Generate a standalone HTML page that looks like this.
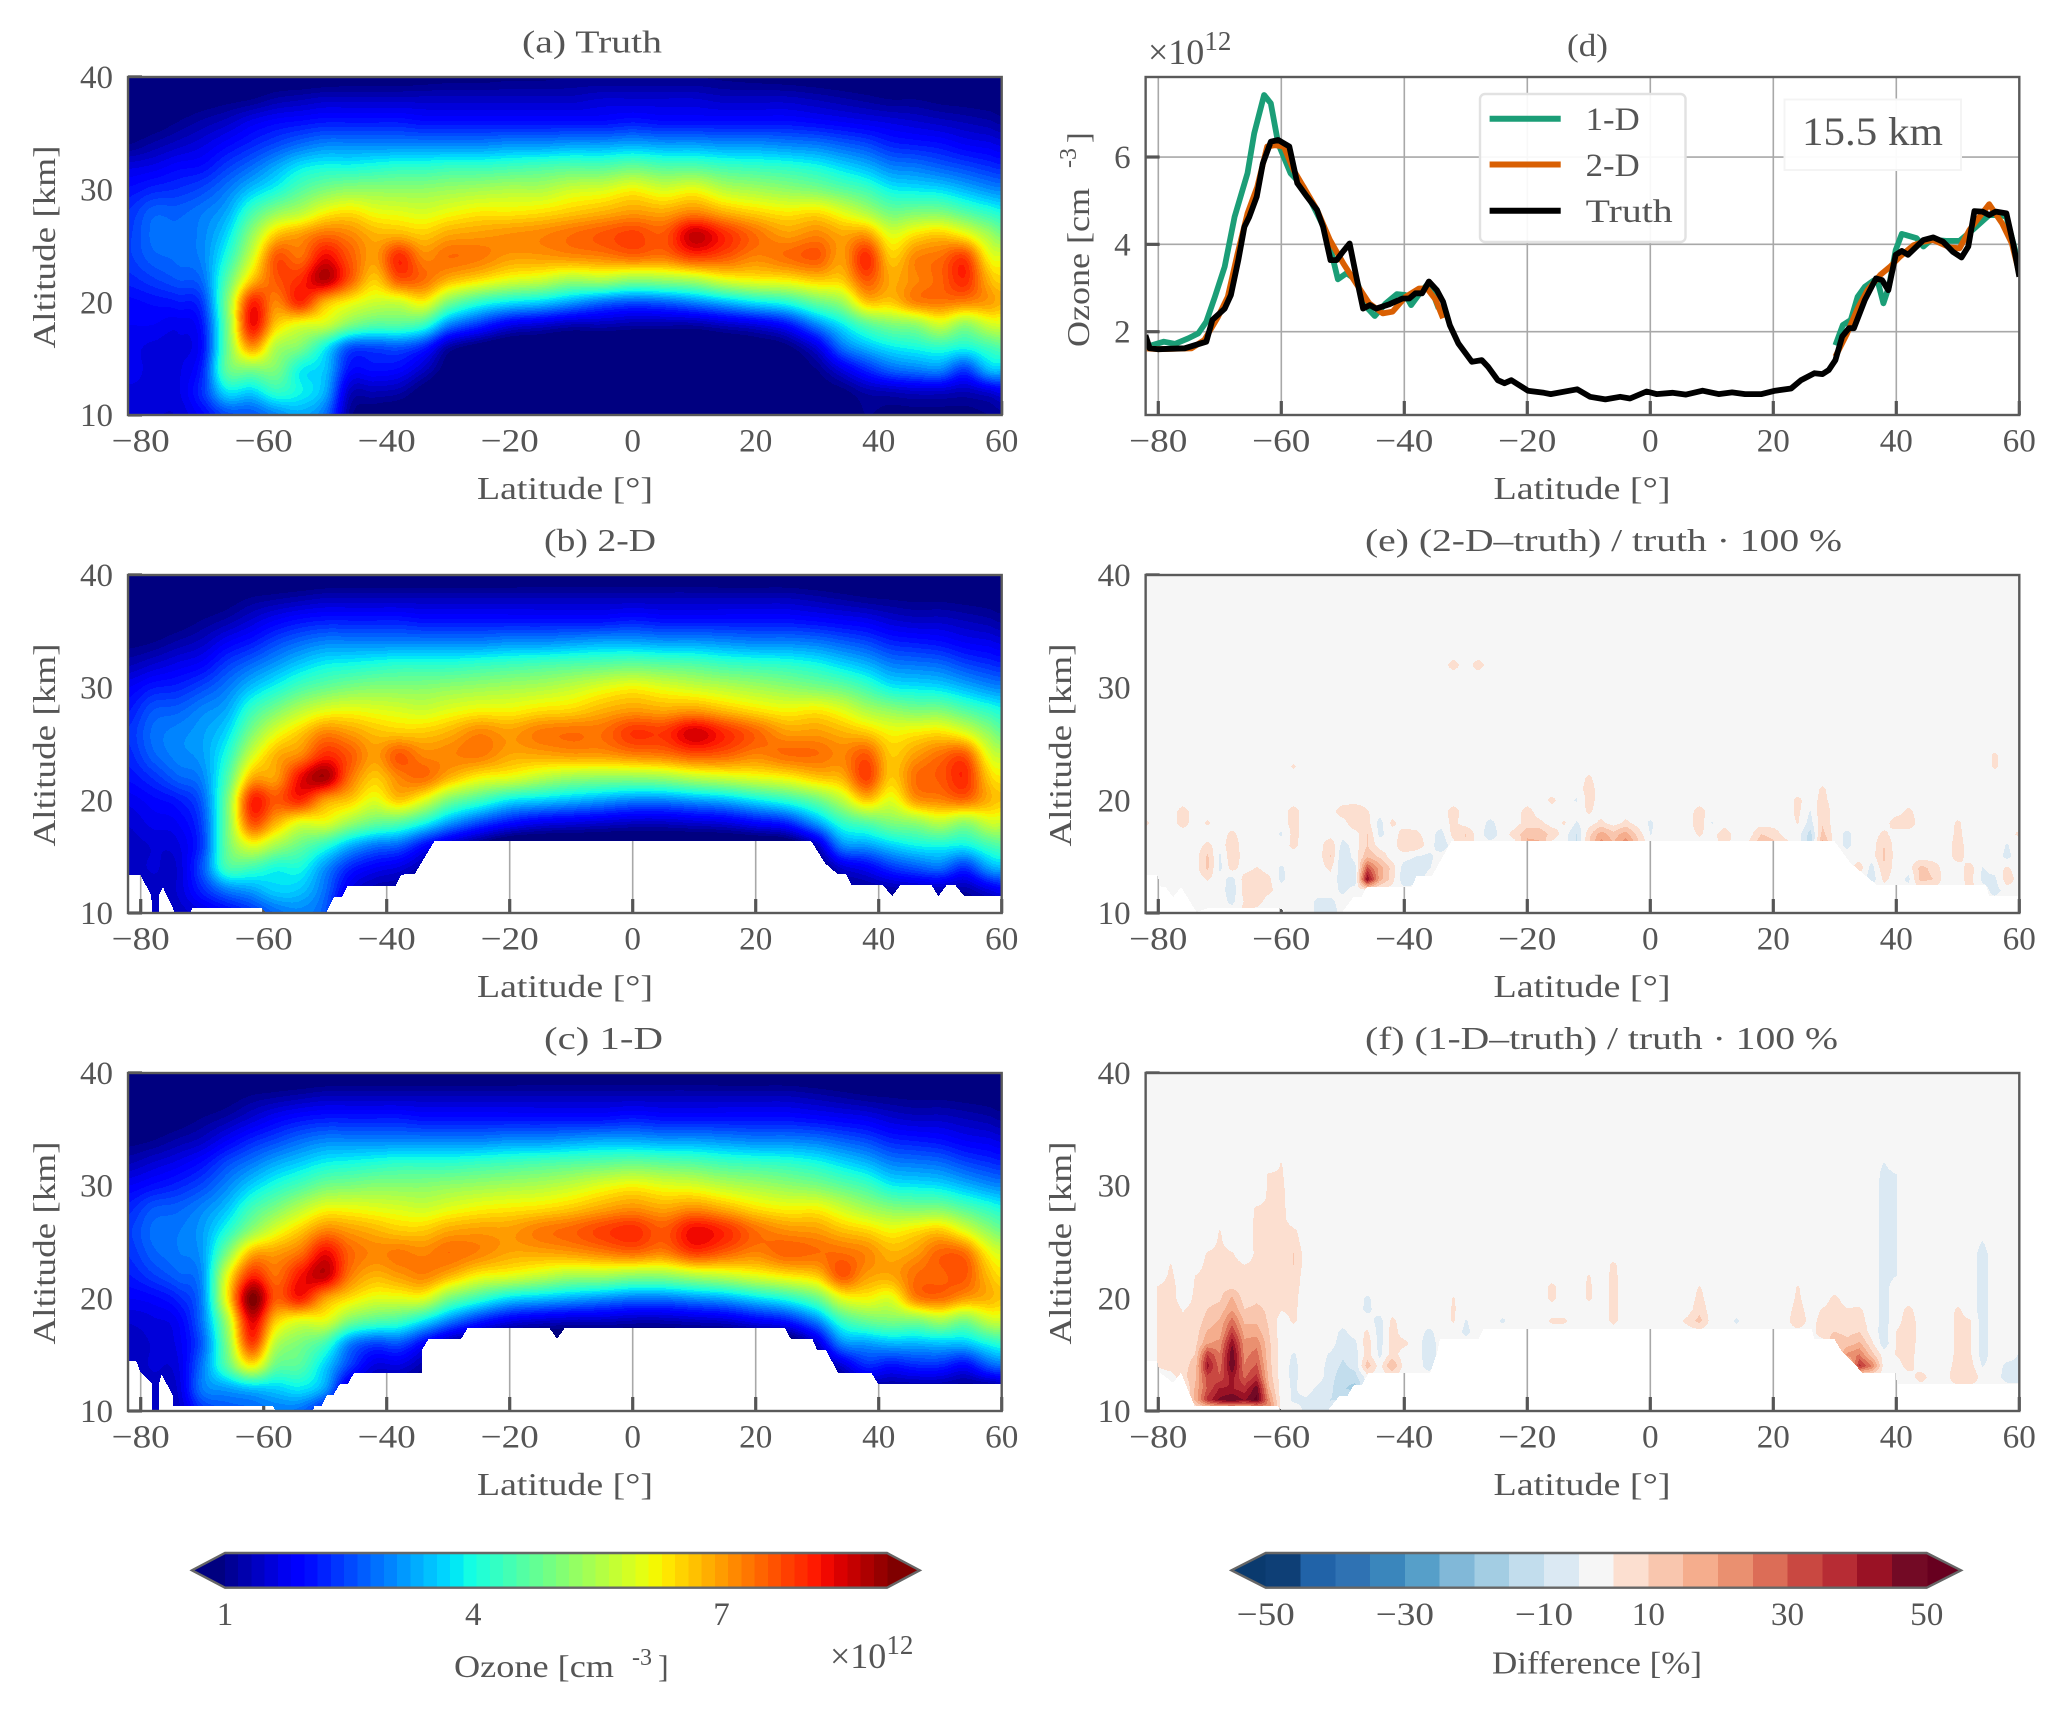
<!DOCTYPE html>
<html lang="en">
<head>
<meta charset="utf-8">
<title>Ozone retrieval comparison</title>
<style>
html,body{margin:0;padding:0;background:#fff;}
svg{display:block;}
text{font-family:"Liberation Serif","DejaVu Serif",serif;fill:#555;}
</style>
</head>
<body>
<svg id="figure" xmlns="http://www.w3.org/2000/svg" width="2067" height="1715" viewBox="0 0 2067 1715">
<rect x="0" y="0" width="2067" height="1715" fill="#fff"/>
<g id="plots"></g>

<text x="522" y="52.7" font-size="32" textLength="140" lengthAdjust="spacingAndGlyphs">(a) Truth</text>
<text x="1567" y="56" font-size="32" textLength="41" lengthAdjust="spacingAndGlyphs">(d)</text>
<text x="544" y="551" font-size="32" textLength="112" lengthAdjust="spacingAndGlyphs">(b) 2-D</text>
<text x="1365" y="551" font-size="32" textLength="477" lengthAdjust="spacingAndGlyphs">(e) (2-D–truth) / truth · 100 %</text>
<text x="544" y="1049" font-size="32" textLength="119" lengthAdjust="spacingAndGlyphs">(c)  1-D</text>
<text x="1365" y="1049" font-size="32" textLength="473" lengthAdjust="spacingAndGlyphs">(f) (1-D–truth) / truth · 100 %</text>

<text x="477" y="499" font-size="32" textLength="176" lengthAdjust="spacingAndGlyphs">Latitude [°]</text>
<text x="477" y="997" font-size="32" textLength="176" lengthAdjust="spacingAndGlyphs">Latitude [°]</text>
<text x="477" y="1495" font-size="32" textLength="176" lengthAdjust="spacingAndGlyphs">Latitude [°]</text>
<text x="1493.5" y="499" font-size="32" textLength="177" lengthAdjust="spacingAndGlyphs">Latitude [°]</text>
<text x="1493.5" y="997" font-size="32" textLength="177" lengthAdjust="spacingAndGlyphs">Latitude [°]</text>
<text x="1493.5" y="1495" font-size="32" textLength="177" lengthAdjust="spacingAndGlyphs">Latitude [°]</text>

<text transform="translate(55,247) rotate(-90)" text-anchor="middle" font-size="32" textLength="203" lengthAdjust="spacingAndGlyphs">Altitude [km]</text>
<text transform="translate(55,745) rotate(-90)" text-anchor="middle" font-size="32" textLength="203" lengthAdjust="spacingAndGlyphs">Altitude [km]</text>
<text transform="translate(55,1243) rotate(-90)" text-anchor="middle" font-size="32" textLength="203" lengthAdjust="spacingAndGlyphs">Altitude [km]</text>
<text transform="translate(1071,745) rotate(-90)" text-anchor="middle" font-size="32" textLength="203" lengthAdjust="spacingAndGlyphs">Altitude [km]</text>
<text transform="translate(1071,1243) rotate(-90)" text-anchor="middle" font-size="32" textLength="203" lengthAdjust="spacingAndGlyphs">Altitude [km]</text>
<text transform="translate(1089,347) rotate(-90)" font-size="32" textLength="159" lengthAdjust="spacingAndGlyphs">Ozone [cm</text>
<text transform="translate(1076,168) rotate(-90)" font-size="24">-3</text>
<text transform="translate(1089,143) rotate(-90)" font-size="32">]</text>
<text x="1148" y="64" font-size="36">×10<tspan font-size="27" dy="-14">12</tspan></text>

<g>
  <rect x="1480" y="94" width="205.5" height="148" rx="5" fill="#fff" fill-opacity="0.92" stroke="#e2e2e2" stroke-width="2.4"/>
  <line x1="1489.6" y1="118.7" x2="1560.7" y2="118.7" stroke="#1b9e77" stroke-width="6"/>
  <line x1="1489.6" y1="164.5" x2="1560.7" y2="164.5" stroke="#d95f02" stroke-width="6"/>
  <line x1="1489.6" y1="210.7" x2="1560.7" y2="210.7" stroke="#000" stroke-width="6"/>
  <text x="1585.7" y="130" font-size="33" textLength="54" lengthAdjust="spacingAndGlyphs">1-D</text>
  <text x="1585.7" y="176" font-size="33" textLength="54" lengthAdjust="spacingAndGlyphs">2-D</text>
  <text x="1585.7" y="222" font-size="33" textLength="87" lengthAdjust="spacingAndGlyphs">Truth</text>
</g>
<g>
  <rect x="1784.5" y="99.5" width="176.5" height="70.5" fill="#fff" fill-opacity="0.95" stroke="#f4f4f4" stroke-width="2"/>
  <text x="1802" y="145" font-size="40" textLength="141" lengthAdjust="spacingAndGlyphs">15.5 km</text>
</g>

<text x="454" y="1677" font-size="32" textLength="160" lengthAdjust="spacingAndGlyphs">Ozone [cm</text>
<text x="632" y="1665" font-size="24">-3</text>
<text x="658" y="1677" font-size="32">]</text>
<text x="830" y="1668" font-size="36">×10<tspan font-size="27" dy="-14">12</tspan></text>
<text x="1492" y="1673.7" font-size="32" textLength="210" lengthAdjust="spacingAndGlyphs">Difference [%]</text>
<g id="bars"></g>
</svg>

<script>
// ---------- Axis categories and tick labels ----------
const xTickValues = [-80, -60, -40, -20, 0, 20, 40, 60];
const altTickValues = [10, 20, 30, 40];
const ozoneTickValues = [2, 4, 6];
const ozoneBarTicks = [1, 4, 7];
const diffBarTickLabels = ['−50', '−30', '−10', '10', '30', '50'];
const diffBarTickBoundary = [0, 4, 8, 11, 15, 19];

// ---------- Grid coordinates of the ozone fields ----------
const latGrid = [-82,-78,-74,-70,-66,-62,-58,-54,-50,-46,-42,-38,-34,-30,-25,-20,-15,-10,-5,0,5,10,15,20,25,30,34,38,42,46,50,54,58,60];
const altGrid = [10,12,14,16,18,20,22,24,26,28,30,32,34,36,38,40];

// ozone [1e12 cm-3], one row per latitude, one value per altitude
const truthField = [
[1.5,1.6,1.7,1.7,1.8,1.9,2.2,2.4,2.4,2.3,2.0,1.6,1.0,.7,.5,.3],
[1.5,1.6,1.6,1.6,1.8,2.0,2.4,2.7,2.8,2.7,2.2,1.7,1.2,.8,.6,.4],
[1.5,1.6,1.6,1.6,1.7,2.1,2.6,2.8,2.8,2.7,2.3,1.9,1.4,1.0,.7,.45],
[1.9,2.3,2.2,2.0,2.1,2.4,2.8,3.0,3.0,2.9,2.5,2.0,1.6,1.2,.8,.5],
[2.5,3.7,4.7,4.8,4.9,5.0,4.6,4.1,3.7,3.3,2.9,2.4,1.9,1.4,.9,.55],
[2.6,3.6,5.0,7.0,8.2,8.0,6.6,5.8,5.2,4.4,3.5,2.8,2.2,1.7,1.0,.6],
[3.0,4.2,5.0,5.5,6.6,7.2,7.6,7.6,6.6,5.2,4.0,3.3,2.5,1.9,1.2,.7],
[3.3,3.9,3.9,5.0,6.0,8.0,8.0,7.4,7.0,5.6,4.6,3.8,2.8,2.0,1.3,.7],
[2.8,3.3,3.5,3.9,5.8,6.8,8.7,8.3,7.4,6.2,5.0,4.0,3.0,2.1,1.4,.75],
[1.1,1.4,2.0,2.6,5.0,6.2,7.6,7.6,7.2,6.4,5.2,4.0,3.0,2.1,1.4,.8],
[.8,1.3,2.0,2.5,4.6,5.8,6.6,7.0,6.8,6.1,5.2,4.1,3.0,2.1,1.4,.8],
[.7,1.2,1.9,2.6,4.6,5.8,7.6,8.0,6.8,6.0,5.2,4.2,3.0,2.1,1.4,.8],
[.6,.8,1.4,2.2,4.3,6.2,7.4,7.2,6.6,5.9,5.2,4.2,3.0,2.0,1.4,.85],
[.5,.6,.8,1.2,3.0,5.0,6.8,7.4,6.9,6.1,5.3,4.3,3.0,2.0,1.4,.9],
[.5,.5,.5,.8,2.3,4.2,6.4,7.3,7.0,6.3,5.4,4.3,3.0,2.0,1.4,.9],
[.5,.5,.5,.6,1.7,3.8,6.0,7.0,7.1,6.3,5.5,4.4,3.1,2.0,1.4,.95],
[.5,.5,.5,.6,1.5,3.6,5.8,7.0,7.2,6.4,5.5,4.5,3.1,2.0,1.4,.95],
[.5,.5,.5,.5,1.3,3.2,5.4,7.1,7.4,6.6,5.8,4.6,3.2,2.0,1.4,1.0],
[.5,.5,.5,.5,1.3,2.8,5.5,7.2,7.6,6.8,5.9,4.6,3.2,2.0,1.5,1.0],
[.5,.5,.5,.5,1.2,2.6,5.2,7.4,7.8,7.0,6.2,4.8,3.3,2.1,1.5,1.0],
[.5,.5,.5,.5,1.2,2.7,5.3,7.3,7.6,6.9,5.9,4.6,3.2,2.0,1.5,1.0],
[.5,.5,.5,.5,1.2,3.0,5.5,7.8,8.6,7.2,6.1,4.6,3.2,2.0,1.5,1.0],
[.5,.5,.5,.6,1.4,3.4,6.0,7.6,8.0,6.8,5.6,4.4,3.1,2.0,1.4,.95],
[.5,.5,.5,.7,1.6,3.8,6.2,7.2,7.4,6.5,5.4,4.3,3.1,2.0,1.4,.9],
[.6,.6,.7,.9,2.0,4.1,6.3,7.4,7.0,6.3,5.2,4.2,3.0,2.0,1.4,.85],
[.7,.8,1.0,1.6,3.0,4.8,6.6,7.6,7.2,6.4,5.0,4.0,2.9,1.9,1.3,.8],
[.8,.9,1.6,2.8,3.8,5.3,6.6,7.0,6.9,6.0,4.7,3.7,2.7,1.8,1.2,.75],
[1.0,1.2,2.2,3.4,4.6,6.6,7.6,8.0,7.0,5.5,4.4,3.4,2.5,1.7,1.1,.7],
[.9,1.3,2.7,3.8,5.0,6.6,6.9,6.6,6.0,4.9,3.9,3.0,2.2,1.6,1.0,.6],
[.9,1.4,2.9,4.0,5.2,7.2,7.2,7.2,6.4,5.0,3.8,2.9,2.1,1.5,1.0,.55],
[.9,1.4,3.0,4.2,5.8,7.3,7.5,7.4,6.6,5.0,3.7,2.7,2.0,1.4,.9,.5],
[.9,1.3,2.4,4.0,5.2,7.2,8.0,7.8,6.2,4.6,3.4,2.5,1.8,1.3,.85,.45],
[1.0,1.5,3.4,4.4,5.8,7.0,6.8,6.2,5.4,4.2,3.1,2.3,1.7,1.2,.8,.4],
[1.1,1.7,3.5,4.6,5.9,6.8,6.5,6.0,5.0,4.0,3.0,2.2,1.6,1.1,.75,.4]
];

const twoDField = [
[1.4,1.4,1.4,1.4,1.5,1.7,2.0,2.2,2.3,2.1,1.8,1.3,.9,.6,.4,.2],
[1.4,1.4,1.5,1.5,1.7,1.9,2.3,2.7,2.8,2.6,2.1,1.5,1.0,.7,.5,.25],
[1.4,1.5,1.5,1.6,1.8,2.1,2.7,3.0,3.0,2.7,2.2,1.7,1.2,.8,.55,.3],
[1.6,2.2,2.6,2.4,2.5,2.7,3.0,3.2,3.2,3.0,2.5,1.9,1.4,1.0,.65,.35],
[1.9,2.9,4.4,4.8,4.9,4.9,4.5,4.1,3.7,3.3,2.9,2.4,1.8,1.2,.8,.4],
[2.3,3.2,4.4,6.0,7.6,8.0,6.8,5.8,5.0,4.3,3.5,2.8,2.1,1.5,1.0,.5],
[2.8,3.6,4.0,5.4,6.8,7.6,7.0,6.8,6.0,5.0,4.0,3.2,2.5,1.8,1.1,.55],
[3.0,3.5,4.0,4.8,6.0,8.0,8.3,7.2,6.6,5.6,4.5,3.6,2.8,2.0,1.2,.6],
[2.6,2.8,3.1,4.2,6.0,7.0,8.8,8.0,7.2,6.0,4.8,3.9,3.0,2.1,1.3,.65],
[1.0,1.6,2.2,3.4,5.3,6.6,7.4,7.6,7.0,6.1,5.0,4.0,3.0,2.1,1.3,.7],
[.8,1.2,1.8,2.9,4.8,6.0,6.6,7.0,6.7,6.0,5.1,4.1,3.0,2.1,1.3,.7],
[.7,1.1,1.6,2.7,4.6,6.6,7.2,7.6,6.6,5.9,5.1,4.2,3.0,2.1,1.3,.7],
[.5,.8,1.2,2.0,4.0,6.0,7.4,7.2,6.6,5.8,5.1,4.2,3.0,2.0,1.3,.7],
[.5,.5,.8,1.4,3.2,5.0,6.8,7.2,6.8,6.0,5.2,4.2,3.0,2.0,1.3,.7],
[.5,.5,.5,.9,2.5,4.4,6.2,7.3,7.2,6.2,5.3,4.3,3.0,2.0,1.3,.7],
[.5,.5,.5,.5,2.0,3.8,6.0,6.9,7.0,6.2,5.4,4.4,3.1,2.0,1.3,.7],
[.5,.5,.5,.5,1.7,3.6,5.6,6.9,7.3,6.4,5.5,4.5,3.1,2.0,1.3,.75],
[.5,.5,.5,.5,1.6,3.4,5.3,7.0,7.4,6.5,5.7,4.6,3.2,2.0,1.3,.75],
[.5,.5,.5,.5,1.5,3.2,5.2,7.0,7.4,6.8,6.0,4.7,3.3,2.0,1.3,.75],
[.5,.5,.5,.5,1.4,3.0,5.2,7.2,7.9,7.0,6.2,4.8,3.3,2.1,1.3,.75],
[.5,.5,.5,.5,1.4,3.0,5.3,7.3,7.9,6.9,6.0,4.7,3.2,2.0,1.3,.75],
[.5,.5,.5,.5,1.5,3.2,5.6,7.6,8.5,7.0,5.8,4.6,3.2,2.0,1.3,.75],
[.5,.5,.5,.5,1.6,3.4,5.8,7.5,8.0,6.7,5.6,4.4,3.1,2.0,1.3,.7],
[.5,.5,.5,.5,1.9,3.8,6.0,7.2,7.5,6.4,5.4,4.3,3.0,2.0,1.3,.7],
[.5,.5,.5,.6,2.2,4.2,6.2,7.4,7.0,6.2,5.2,4.2,3.0,2.0,1.3,.7],
[.6,.6,.8,1.4,3.2,4.8,6.6,7.4,7.0,6.3,5.0,4.0,2.9,1.9,1.2,.65],
[.8,1.0,1.5,3.0,4.2,5.6,6.8,7.2,6.8,6.0,4.8,3.7,2.7,1.8,1.1,.6],
[1.0,1.1,1.8,3.2,4.6,6.6,7.8,7.6,6.6,5.5,4.4,3.4,2.5,1.7,1.0,.55],
[1.0,1.2,2.3,3.6,5.0,6.0,6.6,6.6,6.2,5.2,3.9,3.0,2.2,1.5,.95,.5],
[1.0,1.3,2.6,3.9,5.2,7.0,7.4,7.0,6.3,5.0,3.8,2.9,2.1,1.4,.9,.45],
[1.0,1.3,2.8,4.0,5.6,7.2,7.6,7.4,6.4,5.0,3.7,2.8,2.0,1.4,.9,.4],
[1.0,1.2,2.3,3.9,5.2,7.4,8.0,7.6,6.0,4.6,3.4,2.5,1.8,1.3,.85,.35],
[1.0,1.6,3.2,4.4,5.8,6.8,6.6,6.0,5.2,4.2,3.1,2.3,1.7,1.2,.8,.35],
[1.1,1.8,3.4,4.6,5.8,6.6,6.3,5.7,4.8,4.0,3.0,2.2,1.6,1.1,.75,.3]
];

const oneDField = [
[1.4,1.4,1.4,1.4,1.5,1.8,2.1,2.3,2.4,2.2,1.8,1.3,.9,.6,.4,.25],
[1.4,1.4,1.5,1.5,1.6,1.9,2.4,2.7,2.8,2.6,2.0,1.5,1.0,.7,.5,.3],
[1.4,1.5,1.6,1.7,1.8,2.2,2.7,2.9,2.9,2.7,2.2,1.7,1.2,.8,.55,.35],
[2.3,2.9,2.9,2.7,2.9,3.0,3.1,3.2,3.2,3.0,2.5,2.0,1.4,1.0,.65,.4],
[2.6,3.2,4.6,5.0,5.4,6.2,6.0,5.0,4.1,3.5,3.0,2.5,1.8,1.2,.8,.45],
[2.7,3.5,6.2,7.8,8.4,9.1,8.0,6.8,5.2,4.4,3.6,2.9,2.2,1.5,1.0,.5],
[2.9,3.6,4.8,5.6,6.6,7.6,7.4,7.0,6.0,5.0,4.1,3.3,2.5,1.8,1.1,.55],
[2.8,3.8,4.6,5.0,6.0,8.1,8.2,7.4,6.6,5.6,4.5,3.6,2.8,2.0,1.2,.6],
[2.0,3.2,3.6,4.4,6.0,7.0,8.6,8.3,7.2,6.1,4.9,3.9,3.0,2.1,1.3,.65],
[1.0,1.4,2.4,3.0,5.0,6.4,7.3,7.5,7.0,6.1,5.0,4.0,3.0,2.1,1.3,.7],
[.8,1.2,1.6,2.5,4.6,6.0,6.8,7.2,6.8,6.0,5.1,4.1,3.0,2.1,1.3,.7],
[.7,1.1,1.6,2.6,4.4,6.0,7.0,7.3,6.6,5.9,5.1,4.2,3.0,2.1,1.3,.7],
[.5,.8,1.2,1.9,3.8,6.0,7.2,7.2,6.6,5.8,5.1,4.2,3.0,2.0,1.3,.7],
[.5,.5,.7,1.2,3.0,5.0,6.8,7.4,6.9,6.0,5.2,4.2,3.0,2.0,1.3,.7],
[.5,.5,.5,.8,2.2,4.3,6.2,7.2,7.0,6.2,5.3,4.3,3.0,2.0,1.3,.7],
[.5,.5,.5,.5,1.7,3.7,6.0,6.9,7.0,6.3,5.4,4.4,3.1,2.0,1.3,.7],
[.5,.5,.5,.5,1.5,3.5,5.7,6.9,7.3,6.4,5.5,4.5,3.1,2.0,1.3,.75],
[.5,.5,.5,.5,1.4,3.3,5.4,7.0,7.5,6.6,5.7,4.6,3.2,2.0,1.3,.75],
[.5,.5,.5,.5,1.4,3.1,5.4,7.2,7.8,6.9,6.0,4.7,3.3,2.0,1.3,.75],
[.5,.5,.5,.5,1.3,2.9,5.2,7.4,8.0,7.1,6.2,4.8,3.3,2.1,1.3,.75],
[.5,.5,.5,.5,1.3,2.9,5.2,7.2,7.6,6.9,6.0,4.7,3.2,2.0,1.3,.75],
[.5,.5,.5,.5,1.4,3.1,5.5,7.8,8.3,7.1,5.9,4.6,3.2,2.0,1.3,.75],
[.5,.5,.5,.5,1.5,3.3,5.7,7.5,8.0,6.8,5.6,4.4,3.1,2.0,1.3,.7],
[.5,.5,.5,.5,1.8,3.7,6.0,7.2,7.4,6.4,5.4,4.3,3.0,2.0,1.3,.7],
[.5,.5,.5,.6,2.1,4.1,6.3,7.5,7.1,6.2,5.2,4.2,3.0,2.0,1.3,.7],
[.6,.7,.9,1.5,3.0,4.8,6.6,7.4,7.0,6.2,5.0,4.0,2.9,1.9,1.2,.65],
[.7,.9,1.5,3.0,4.3,6.0,7.6,7.4,6.7,5.8,4.7,3.7,2.7,1.8,1.1,.6],
[.8,1.1,2.2,3.2,4.8,6.2,7.0,7.2,6.5,5.4,4.4,3.4,2.5,1.7,1.0,.55],
[.8,1.1,2.0,3.4,5.0,6.0,6.9,6.8,6.2,5.1,3.9,3.0,2.2,1.5,.95,.5],
[.8,1.1,2.2,3.4,5.0,7.2,7.4,7.0,6.4,5.0,3.8,2.9,2.1,1.4,.9,.45],
[.8,1.1,2.2,3.5,5.4,7.4,7.5,7.5,6.6,5.0,3.7,2.8,2.0,1.4,.9,.4],
[.8,1.0,1.9,3.5,5.0,7.0,7.6,7.4,6.0,4.6,3.4,2.5,1.8,1.3,.85,.35],
[.8,1.0,2.6,4.0,5.7,6.8,6.7,6.2,5.2,4.2,3.1,2.3,1.7,1.2,.8,.35],
[.9,1.1,2.8,4.2,5.8,6.6,6.4,5.9,4.9,4.0,3.0,2.2,1.6,1.1,.75,.3]
];

// ---------- Retrieval floor (lowest valid altitude) per latitude ----------
const floorLatB = [-82,-80.1,-78.3,-78.1,-77,-77,-76.4,-74.4,-71.8,-71.7,-60.2,-59.5,-49.9,-48.6,-47.3,-46.4,-38.6,-37.6,-35.4,-32.2,29,31.3,33.2,34.6,35.6,40.7,42.2,43.5,48.6,49.7,51,52.5,53.9,59.8,60];
const floorAltB = [13.4,13.4,11.6,10,10,11.6,12.3,10,10,10.4,10.4,10,10,11.4,11.4,12.4,12.4,13.4,13.5,16.4,16.4,14.4,13.5,13.5,12.45,12.45,11.5,12.45,12.45,11.5,12.45,12.45,11.5,11.5,12];
const floorLatC = [-82,-80.7,-80,-78.2,-78.2,-77,-77,-76.6,-74.8,-74.8,-58.5,-58,-52,-51.8,-50.6,-49.7,-48.7,-47.6,-46.3,-45.3,-34.3,-34.3,-33.2,-27.9,-26.8,-13.6,-12.3,-11,24.7,25.7,29.2,30,31.4,33.4,38.8,39.9,60];
const floorAltC = [14.4,14.4,13.4,12.5,10,10,12.5,13.25,11.4,10.44,10.44,10,10,10.44,10.44,11.4,11.4,12.4,12.4,13.4,13.4,15.4,16.4,16.4,17.4,17.4,16.4,17.4,17.4,16.4,16.4,15.4,15.4,13.4,13.4,12.4,12.4];
const floorLatE = [-82,-80.2,-79.6,-78.8,-77.6,-76.3,-73.8,-72.1,-60.2,-58.9,-50.2,-48.3,-47,-46.1,-38.8,-38,-35.5,-32.3,29.9,32.6,36.9,54.6,55.1,60];
const floorAltE = [13.4,13.4,12.3,12.3,11.4,12.3,10.1,10.4,10.4,10,10,11.4,11.4,12.3,12.3,13.3,13.3,16.4,16.4,14.4,12.45,12.45,11.5,11.5];
const floorLatF = [-82,-80.2,-79.7,-77.6,-76.3,-74.1,-60.6,-59.8,-52.5,-50.6,-49.3,-48.2,-46.9,-45.8,-35.8,-34.7,-34.2,-27.9,-27.1,26.2,26.7,29.9,31,34.5,39.9,40.1,60];
const floorAltF = [14.4,14.4,13.4,12.5,13.4,10.44,10.44,10,10,11.3,11.3,12.3,12.3,13.4,13.4,15.1,16.4,16.4,17.3,17.3,16.4,16.4,15.4,13.4,13.4,12.4,12.4];
const noFloorLat = [-82.1,60];
const noFloorAlt = [10,10];

// ---------- Difference fields: [latitude, first altitude, values upward in 1 km steps]; all other nodes are 0 ----------
const diff2dColumns = [
[-82,18,[3.6]],[-76,18,[5,5]],[-72,13,[3,9,9,4]],[-72,18,[3.4]],[-70,14,[-4,-4]],[-68,14,[5,7,6,4]],[-68,11,[-4,-6,-5]],
[-66,10,[5,3,5,5]],[-64,11,[5,6,7,3]],[-62,12,[4,4]],[-60,13,[-4,-3.4]],[-60,17,[-3.4]],[-58,16,[4,4.6,5,5]],[-58,23,[3.4]],
[-54,10,[-4,-4]],[-52,10,[-6,-4]],[-52,14,[4,8,7]],[-50,12,[-4,-5,-7,-8,-5]],[-50,19,[6]],[-48,13,[-6,-5]],[-48,18,[7,8]],
[-46,13,[45,30,12,8,8,5,3]],[-44,13,[16,16,7]],[-44,17,[-4,-5]],[-42,13,[5,6]],[-42,18,[4]],[-40,13,[-7,-6]],[-40,16,[7,5]],
[-38,13,[-5,-7,-3]],[-38,16,[7,4]],[-36,14,[-3,-4]],[-34,16,[-6,-5]],[-32,17,[5,4,5]],[-32,32,[5]],[-30,16,[8,8]],[-28,32,[5]],
[-26,17,[-6,-4]],[-22,17,[5]],[-20,16,[15,12,5,5]],[-18,16,[14,12,4]],[-16,17,[6]],[-16,20,[4]],[-14,18,[3.4]],[-12,16,[-8,-8,-3]],[-12,20,[-3.2]],
[-10,16,[8,6]],[-10,19,[3.5,5,5,3.5]],[-8,16,[22,16,4]],[-6,16,[14,10]],[-4,16,[24,16,4]],[-2,16,[10,6]],[0,17,[-3,-3.5]],
[8,17,[3.5,6,5]],[10,18,[-3]],[12,16,[5,6]],[16,16,[4]],[18,16,[12,8]],[20,16,[10,6]],[22,16,[6]],[24,18,[3,4,4]],
[26,16,[-12,-10,-5,-3]],[28,16,[16,10,7,7,4.5,3.5]],[32,16,[-4,-4]],[34,14,[6]],[36,13,[-6,-5]],[38,13,[4,7,9,8,4]],
[40,18,[6]],[42,13,[-4]],[42,18,[6,4]],[44,13,[10,10]],[46,13,[8,6]],[50,15,[5,5,4,3.5]],[52,12,[4,5,5]],
[54,13,[-4,-3]],[56,12,[-5,-4]],[56,23,[3.5,3.5]],[58,13,[6,3.5,-4,-3]],[60,17,[4]]
];
const diff1dColumns = [
[-80,14,[3,3,3,3,3,3,3,3]],[-78,14,[5,5,5,5,5,5,5,4.5,3.6,2.8]],[-76,13,[6,6,5.5,5,4.5,3.2,2.4]],
[-74,11,[14,14,12,10,8,6,5,4.5,4,3.5,3,2.7]],[-72,11,[36,30,32,42,34,18,14,10,8,6,5,4.6,4,3]],
[-70,11,[46,40,30,26,24,20,16,14,10,7,6,4.5,4,4,3.4,2.8]],[-68,11,[50,40,42,50,50,44,34,26,18,14,7,5,4,3]],
[-66,11,[44,36,28,24,22,20,16,12,8,5.5,4.5,3.4,2.6]],[-64,11,[52,48,36,30,26,22,16,12,9,7,5,4,3.6,3.5,3.8,4,3.6,3.2]],
[-62,10,[24,20,14,11,10,9,9,8,7,7,6,5,5,5,6,5,4.5,4,3.6,3.4,3.2,3]],
[-60,19,[3,3.5,4,4.5,5,5,5,5,4.5,4,3.8,3.5,3.1,2.8]],[-58,11,[-3.5,-3.5,-4,-4,-3.2]],[-58,18,[3.5,3.8,4,5,6,8,8,5,3.5]],
[-56,10,[-3.5,-3.5]],[-54,10,[-5,-5,-4]],[-52,10,[-7,-8,-7,-6,-5,-3.5]],[-50,11,[-8,-12,-11,-9,-7,-6,-4]],[-48,12,[-16,-10,-6,-5,-4]],
[-46,14,[11,5,6,3.5]],[-46,19,[-4,-3.5]],[-44,15,[-4,-5,-5,-5]],[-42,14,[14,5,5,5,4]],[-40,16,[4]],
[-36,14,[-5,-6,-6,-4]],[-32,18,[3.2,3.2,3]],[-30,17,[-4,-3]],[-24,18,[-3.5]],[-16,18,[3.5]],[-16,20,[4,4]],[-14,18,[3.5]],
[-10,20,[3.5,3.5,3]],[-6,18,[4,4,4,4,4,3.5]],[6,18,[4]],[8,18,[10,6,4,3]],[14,18,[-3.5]],[24,18,[8,5,3.5,3]],
[28,17,[6,5,3]],[30,16,[14,8,6,5,4]],[32,15,[20,10,6,5,3]],[34,14,[36,24,14,8,5,3.5]],[36,14,[24,10,4]],
[38,16,[-6,-5,-4.5,-4.5,-4.5,-4.5,-4.5,-4.5,-4.5,-4.5,-4.5,-4.5,-4.5,-4.5,-4.5,-4,-2.8]],
[40,15,[3,3,3]],[40,22,[-2.7,-2.7,-2.7,-2.7,-2.7,-2.7,-2.7,-2.7,-2.7,-2.7]],
[42,14,[5,5,6,6,6,4]],[44,13,[5]],[50,13,[8,5,4,4,4,4,3.5]],[52,13,[8,5,3.5,3.5,3.5,3]],
[54,14,[-3,-5,-5,-5,-5,-5,-5,-5,-5,-5,-4.5,-2.8]],[58,13,[-5,-4]],[60,13,[-6,-4,-3]]
];

// ---------- Panel (d): ozone at 15.5 km ----------
const truthLat = [-82.1,-81.4,-80,-75.7,-72.2,-71.2,-69.2,-68.2,-67,-66,-65.2,-64,-63,-61.7,-60.5,-58.7,-57.4,-55.8,-54.2,-53.2,-52,-51,-50,-48.9,-47.8,-46.7,-45.6,-44.6,-42.4,-40.3,-39.2,-38.2,-37.1,-36,-34.7,-33.7,-32.6,-31.2,-29,-27.4,-26.4,-24.8,-23.7,-22.6,-19.9,-17.3,-16.2,-11.9,-9.8,-7.3,-4.9,-3.3,-0.6,1,3.6,5.8,8.5,11.1,13.3,15.4,18.1,20.3,22.9,24.5,26.7,28,29,30.1,31.2,32.3,33.1,34.9,36.7,37.7,38.7,39.9,40.9,41.9,43.3,44.4,46,47.6,49.2,50.6,51.7,52.7,54,55.1,56.2,57.9,59.1,60];
const truthValues = [1.92,1.62,1.6,1.62,1.77,2.27,2.53,2.84,3.64,4.4,4.63,5.09,5.85,6.35,6.39,6.24,5.4,5.09,4.79,4.4,3.64,3.64,3.83,4.02,3.26,2.53,2.61,2.53,2.63,2.76,2.76,2.88,2.88,3.15,2.95,2.69,2.15,1.73,1.31,1.35,1.2,.89,.82,.89,.65,.6,.57,.68,.51,.45,.51,.47,.63,.57,.6,.56,.65,.57,.61,.57,.57,.65,.7,.89,1.05,1.03,1.12,1.35,1.89,2.08,2.08,2.73,3.22,3.18,2.95,3.76,3.85,3.76,3.95,4.1,4.16,4.06,3.83,3.7,3.95,4.76,4.75,4.67,4.75,4.71,3.95,3.26];
const oneDLat = [-82.1,-81,-79.1,-77.3,-75.1,-73.5,-72.2,-70.8,-69.2,-67.6,-65.5,-64.4,-62.8,-61.7,-60.5,-58.5,-56.4,-54.2,-52.6,-50.8,-49.4,-47.8,-46.2,-44.8,-43,-41.2,-39.8,-38.9,-37.1,-36,-34.4,null,30.1,31.3,32.6,33.7,34.9,36.3,36.9,37.9,38.8,39.9,40.9,43.3,44.4,45.7,48.1,50.3,52.4,55.1,57,57.9,59.4,60];
const oneDValues = [1.65,1.69,1.77,1.72,1.85,1.96,2.23,2.8,3.49,4.63,5.63,6.54,7.42,7.23,6.31,5.63,5.32,4.71,4.25,3.2,3.34,3.18,2.57,2.36,2.65,2.86,2.84,2.61,2.95,3.12,2.53,null,1.69,2.15,2.27,2.8,3.03,3.17,3.2,2.65,3.03,3.87,4.24,4.14,3.95,4.11,4.08,4.08,4.33,4.67,4.67,4.63,3.83,3.33];
const twoDLat = [-82.1,-80,-74.6,-72.5,-70.3,-68.7,-67.1,-65.5,-63.9,-62.3,-61,-59.6,-58,-56.4,-54.2,-52.1,-49.9,-47.8,-45.7,-43.5,-41.9,-39.8,-37.6,-36.3,-34.9,-33.7,null,30.1,32,33.7,35.3,37.4,39,40.6,42.8,44.4,46,48.7,50.3,51.9,55.1,57.2,58.8,60];
const twoDValues = [1.62,1.6,1.62,1.81,2.34,2.8,3.79,4.71,5.32,6.24,6.27,6.24,5.7,5.32,4.79,4.1,3.56,3.1,2.65,2.42,2.46,2.8,2.99,2.99,2.73,2.31,null,1.43,1.96,2.53,2.95,3.3,3.49,3.72,3.98,4.06,4.1,3.93,3.91,4.33,4.92,4.48,4.02,3.33];

// ---------- Colormaps ----------
const rdbuColors = ['#0a3a6e','#0e3f76','#2163a8','#2f72b3','#3a86bc','#569fc9','#81b8d8','#a3cde3','#c2dded','#dbe9f3','#f6f6f6','#fcdfd0','#f9c6ae','#f5ad8d','#ea9070','#dc6d57','#c94841','#b72c34','#9a1225','#730a25','#67001f'];
function piece(t, xs, ys){
  for(let i=1;i<xs.length;i++){ if(t<=xs[i]) return ys[i-1]+(ys[i]-ys[i-1])*(t-xs[i-1])/(xs[i]-xs[i-1]); }
  return ys[ys.length-1];
}
function jet(t){
  const r=piece(t,[0,.35,.66,.89,1],[0,0,1,1,.5]);
  const g=piece(t,[0,.125,.375,.64,.91,1],[0,0,1,1,0,0]);
  const b=piece(t,[0,.11,.34,.65,1],[.5,1,1,0,0]);
  return 'rgb('+Math.round(r*255)+','+Math.round(g*255)+','+Math.round(b*255)+')';
}
const ozoneBandCount = 50, ozoneLow = 1, ozoneHigh = 9;
function ozoneBand(v){
  if(v<ozoneLow) return 0;
  if(v>=ozoneHigh) return ozoneBandCount+1;
  return 1+Math.floor((v-ozoneLow)/((ozoneHigh-ozoneLow)/ozoneBandCount));
}
function ozoneColor(i){ return jet(i/(ozoneBandCount+1)); }
function diffBand(v){
  if(v<-50) return 0;
  if(v>=50) return 20;
  return 1+Math.floor((v+50)/(100/19));
}
function diffColor(i){ return rdbuColors[i]; }

// ---------- Geometry ----------
const SVGNS='http://www.w3.org/2000/svg';
const pxPerDeg=6.15, pxPerKm=11.27, plotHeight=338;
const leftZero=632.7, rightZero=1650.3;
function mk(tag, attrs, parent){
  const n=document.createElementNS(SVGNS,tag);
  for(const k in attrs){ n.setAttribute(k,attrs[k]); }
  parent.appendChild(n);
  return n;
}
function xScale(zero,lat){ return zero+pxPerDeg*lat; }
function altScale(bottom,alt){ return bottom-(alt-10)*pxPerKm; }

function floorAt(lats, alts, lat){
  if(lat<=lats[0]) return alts[0];
  for(let i=1;i<lats.length;i++){
    if(lat<=lats[i]){
      const d=lats[i]-lats[i-1];
      if(d<=0) return alts[i];
      return alts[i-1]+(alts[i]-alts[i-1])*(lat-lats[i-1])/d;
    }
  }
  return alts[alts.length-1];
}
function locate(grid, v){
  let i=0;
  while(i<grid.length-2 && v>grid[i+1]) i++;
  let t=(v-grid[i])/(grid[i+1]-grid[i]);
  t=Math.max(0,Math.min(1,t));
  return [i,t];
}
function cr(a,b,c,d,t){
  return b+0.5*t*(c-a+t*(2*a-5*b+4*c-d+t*(3*(b-c)+d-a)));
}
function sampleSmooth(field,li,lt,ai,at){
  const nL=field.length,nA=field[0].length,vals=[];
  for(let m=-1;m<=2;m++){
    const row=field[Math.max(0,Math.min(nL-1,li+m))];
    vals.push(cr(row[Math.max(0,ai-1)],row[ai],row[Math.min(nA-1,ai+1)],row[Math.min(nA-1,ai+2)],at));
  }
  return cr(vals[0],vals[1],vals[2],vals[3],lt);
}
function sampleLinear(field,li,lt,ai,at){
  const a=field[li][ai]*(1-at)+field[li][ai+1]*at;
  const b=field[li+1][ai]*(1-at)+field[li+1][ai+1]*at;
  return a*(1-lt)+b*lt;
}
function denseFromColumns(columns, lats, alts){
  const f=lats.map(()=>alts.map(()=>0));
  columns.forEach(function(c){
    const li=lats.indexOf(c[0]);
    c[2].forEach(function(v,k){
      const ai=alts.indexOf(c[1]+k);
      if(li>=0&&ai>=0) f[li][ai]=v;
    });
  });
  return f;
}
const diffLatGrid=[], diffAltGrid=[];
for(let a=-82;a<=60;a+=2) diffLatGrid.push(a);
for(let a=10;a<=40;a+=1) diffAltGrid.push(a);

// Draw a filled-contour field as one path per contour band
function drawField(parent,cfg){
  const left=Math.round(xScale(cfg.zero,-82.06)), right=Math.round(xScale(cfg.zero,60));
  const top=Math.round(cfg.bottom-plotHeight), bot=Math.round(cfg.bottom);
  const segs={};
  const cols=[];
  for(let x=left;x<right;x++){
    const lat=(x+.5-cfg.zero)/pxPerDeg;
    const loc=locate(cfg.lats,lat);
    cols.push({lat:lat,i:loc[0],t:loc[1],floor:floorAt(cfg.floorLat,cfg.floorAlt,lat)});
  }
  for(let y=top;y<bot;y++){
    const alt=10+(cfg.bottom-(y+.5))/pxPerKm;
    const aloc=locate(cfg.alts,alt);
    let cur=null,start=left;
    for(let c=0;c<=cols.length;c++){
      let band=null;
      if(c<cols.length){
        const C=cols[c];
        if(alt>=C.floor) band=cfg.band(cfg.sampler(cfg.field,C.i,C.t,aloc[0],aloc[1]));
      }
      if(band!==cur){
        if(cur!==null){
          (segs[cur]=segs[cur]||[]).push('M'+start+' '+y+'h'+(left+c-start)+'v1h-'+(left+c-start)+'z');
        }
        cur=band;start=left+c;
      }
    }
  }
  const g=mk('g',{'shape-rendering':'crispEdges'},parent);
  
  
  Object.keys(segs).forEach(function(k){
    const p=mk('path',{d:segs[k].join(''),fill:cfg.color(+k)},g);
    
    
  });
}

function drawGridAndTicks(parent,name,zero,bottom,yVals,yFn){
  const l=xScale(zero,-82.06), r=xScale(zero,60), t=bottom-plotHeight;
  xTickValues.forEach(function(v){
    const x=xScale(zero,v);
    const gl=mk('line',{x1:x,x2:x,y1:t,y2:bottom,stroke:'#a8a8a8','stroke-width':1.6},parent);
    
    
    const tk=mk('line',{x1:x,x2:x,y1:bottom-14,y2:bottom,stroke:'#555','stroke-width':3.2},parent);
    
    
  });
  yVals.forEach(function(v){
    const y=yFn(v);
    const gl=mk('line',{x1:l,x2:r,y1:y,y2:y,stroke:'#a8a8a8','stroke-width':1.6},parent);
    
    
    const tk=mk('line',{x1:l,x2:l+14,y1:y,y2:y,stroke:'#555','stroke-width':3.2},parent);
    
    
  });
}
function tickWidth(s){
  const neg=s.charAt(0)==='−';
  return (s.length-(neg?1:0))*16.6+(neg?25:0);
}
function drawLabels(parent,name,zero,bottom,yVals,yFn){
  const l=xScale(zero,-82.06);
  xTickValues.forEach(function(v){
    const s=(v<0?'−':'')+Math.abs(v);
    const tx=mk('text',{x:xScale(zero,v),y:bottom+36.7,'text-anchor':'middle','font-size':33,textLength:tickWidth(s),lengthAdjust:'spacingAndGlyphs'},parent);
    tx.textContent=s;
    
    
  });
  yVals.forEach(function(v){
    const s=String(v);
    const tx=mk('text',{x:l-15,y:yFn(v)+11,'text-anchor':'end','font-size':33},parent);
    tx.textContent=s;
    
    
  });
}
function drawFrame(parent,name,zero,bottom){
  const l=xScale(zero,-82.06), r=xScale(zero,60), t=bottom-plotHeight;
  const fr=mk('rect',{x:l,y:t,width:r-l,height:plotHeight,fill:'none',stroke:'#5a5a5a','stroke-width':2.4},parent);
  
  
}

const plots=document.getElementById('plots');
const diff2dField=denseFromColumns(diff2dColumns,diffLatGrid,diffAltGrid);
const diff1dField=denseFromColumns(diff1dColumns,diffLatGrid,diffAltGrid);
const panelList=[
 {name:'panel-a',zero:leftZero,bottom:415,field:truthField,lats:latGrid,alts:altGrid,floorLat:noFloorLat,floorAlt:noFloorAlt,band:ozoneBand,color:ozoneColor,sampler:sampleSmooth},
 {name:'panel-b',zero:leftZero,bottom:913,field:twoDField,lats:latGrid,alts:altGrid,floorLat:floorLatB,floorAlt:floorAltB,band:ozoneBand,color:ozoneColor,sampler:sampleSmooth},
 {name:'panel-c',zero:leftZero,bottom:1411,field:oneDField,lats:latGrid,alts:altGrid,floorLat:floorLatC,floorAlt:floorAltC,band:ozoneBand,color:ozoneColor,sampler:sampleSmooth},
 {name:'panel-e',zero:rightZero,bottom:913,field:diff2dField,lats:diffLatGrid,alts:diffAltGrid,floorLat:floorLatE,floorAlt:floorAltE,band:diffBand,color:diffColor,sampler:sampleLinear},
 {name:'panel-f',zero:rightZero,bottom:1411,field:diff1dField,lats:diffLatGrid,alts:diffAltGrid,floorLat:floorLatF,floorAlt:floorAltF,band:diffBand,color:diffColor,sampler:sampleLinear}
];
panelList.forEach(function(cfg){
  const g=mk('g',{},plots);
  
  
  const yFn=function(v){return altScale(cfg.bottom,v);};
  drawGridAndTicks(g,cfg.name,cfg.zero,cfg.bottom,altTickValues,yFn);
  drawField(g,cfg);
  drawFrame(g,cfg.name,cfg.zero,cfg.bottom);
  drawLabels(g,cfg.name,cfg.zero,cfg.bottom,altTickValues,yFn);
});

// ---------- Panel (d) ----------
(function(){
  const zero=rightZero,bottom=415;
  const yO=function(v){return 331.7-(v-2)*43.67;};
  const g=mk('g',{},plots);
  
  
  const l=xScale(zero,-82.06),r=xScale(zero,60);
  const clip=mk('clipPath',{id:'clip-d'},g);
  mk('rect',{x:l,y:bottom-plotHeight,width:r-l,height:plotHeight},clip);
  drawGridAndTicks(g,'panel-d',zero,bottom,ozoneTickValues,yO);
  function line(lats,vals,color,name){
    let d='',pen=false;
    lats.forEach(function(la,i){
      if(la===null||vals[i]===null){pen=false;return;}
      d+=(pen?'L':'M')+xScale(zero,la).toFixed(1)+' '+yO(vals[i]).toFixed(1);
      pen=true;
    });
    const p=mk('path',{d:d,fill:'none',stroke:color,'stroke-width':5.8,'stroke-linejoin':'round','clip-path':'url(#clip-d)'},g);
    
    
  }
  line(oneDLat,oneDValues,'#1b9e77','series-1d');
  line(twoDLat,twoDValues,'#d95f02','series-2d');
  line(truthLat,truthValues,'#000','series-truth');
  drawFrame(g,'panel-d',zero,bottom);
  drawLabels(g,'panel-d',zero,bottom,ozoneTickValues,yO);
})();

// ---------- Colorbars ----------
(function(){
  const bars=document.getElementById('bars');
  const top=1553,bot=1587.7,mid=(top+bot)/2;
  // ozone bar
  const ox0=225,ox1=887,otipL=192,otipR=919.7;
  const og=mk('g',{'shape-rendering':'crispEdges'},bars);
  
  
  const ounder=mk('polygon',{points:ox0+','+top+' '+otipL+','+mid+' '+ox0+','+bot,fill:ozoneColor(0),'shape-rendering':'auto'},og);
  
  
  const oover=mk('polygon',{points:ox1+','+top+' '+otipR+','+mid+' '+ox1+','+bot,fill:ozoneColor(ozoneBandCount+1),'shape-rendering':'auto'},og);
  
  
  for(let i=0;i<ozoneBandCount;i++){
    const x=ox0+(ox1-ox0)*i/ozoneBandCount;
    const s=mk('rect',{x:x,y:top,width:(ox1-ox0)/ozoneBandCount+.6,height:bot-top,fill:ozoneColor(i+1)},og);
    
    
  }
  const oout=mk('polygon',{points:otipL+','+mid+' '+ox0+','+top+' '+ox1+','+top+' '+otipR+','+mid+' '+ox1+','+bot+' '+ox0+','+bot,fill:'none',stroke:'#666','stroke-width':2.4,'shape-rendering':'auto'},bars);
  
  
  ozoneBarTicks.forEach(function(v){
    const tx=mk('text',{x:ox0+(ox1-ox0)*(v-ozoneLow)/(ozoneHigh-ozoneLow),y:1625,'text-anchor':'middle','font-size':33},bars);
    tx.textContent=String(v);
    
    
  });
  // difference bar
  const dx0=1265.7,dx1=1926.7,dtipL=1231.5,dtipR=1961;
  const dg=mk('g',{'shape-rendering':'crispEdges'},bars);
  
  
  const dunder=mk('polygon',{points:dx0+','+top+' '+dtipL+','+mid+' '+dx0+','+bot,fill:diffColor(0),'shape-rendering':'auto'},dg);
  
  
  const dover=mk('polygon',{points:dx1+','+top+' '+dtipR+','+mid+' '+dx1+','+bot,fill:diffColor(20),'shape-rendering':'auto'},dg);
  
  
  for(let i=0;i<19;i++){
    const x=dx0+(dx1-dx0)*i/19;
    const s=mk('rect',{x:x,y:top,width:(dx1-dx0)/19+.6,height:bot-top,fill:diffColor(i+1)},dg);
    
    
  }
  const dout=mk('polygon',{points:dtipL+','+mid+' '+dx0+','+top+' '+dx1+','+top+' '+dtipR+','+mid+' '+dx1+','+bot+' '+dx0+','+bot,fill:'none',stroke:'#666','stroke-width':2.4,'shape-rendering':'auto'},bars);
  
  
  diffBarTickLabels.forEach(function(s,i){
    const tx=mk('text',{x:dx0+(dx1-dx0)*diffBarTickBoundary[i]/19,y:1625,'text-anchor':'middle','font-size':33,textLength:tickWidth(s),lengthAdjust:'spacingAndGlyphs'},bars);
    tx.textContent=s;
    
    
  });
})();
</script>
</body>
</html>
